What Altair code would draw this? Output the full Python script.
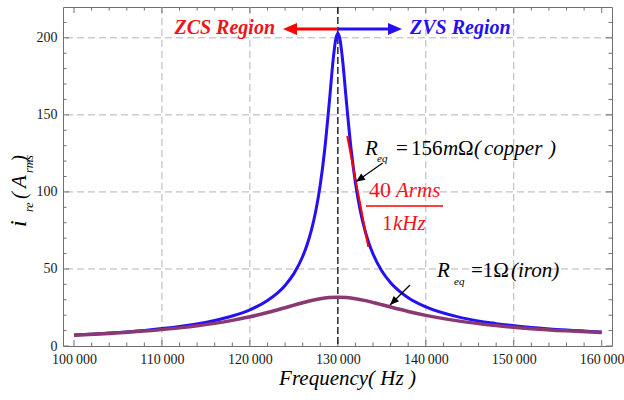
import altair as alt
import pandas as pd

# ---------------- data ----------------
freq_copper = [100000, 104000, 108000, 112000, 116000, 118000, 120000, 122000, 124000, 125000,
               126000, 126500, 127000, 127500, 128000, 128500, 129000, 129500, 129750, 130000,
               130250, 130500, 131000, 131500, 132000, 132500, 133000, 133500, 134000, 135000,
               136000, 138000, 140000, 144000, 148000, 152000, 156000, 160000]
i_copper = [7.13, 8.41, 10.14, 12.63, 16.53, 19.43, 23.47, 29.48, 39.30, 46.96,
            58.05, 65.65, 75.32, 87.9, 104.6, 127.2, 156.4, 187.6, 198.8, 203.0,
            198.8, 187.7, 156.9, 128.1, 105.8, 89.3, 76.81, 67.2, 59.71, 48.69,
            41.09, 31.31, 25.33, 18.41, 14.53, 12.04, 10.32, 9.05]

freq_iron = [100000, 104000, 108000, 112000, 116000, 118000, 120000, 122000, 124000, 125000,
             126000, 127000, 128000, 129000, 130000, 131000, 132000, 133000, 134000, 135000,
             136000, 138000, 140000, 144000, 148000, 152000, 156000, 160000]
i_iron = [6.96, 8.13, 9.67, 11.76, 14.69, 16.62, 18.95, 21.71, 24.86, 26.50,
          28.09, 29.52, 30.68, 31.44, 31.70, 31.44, 30.71, 29.62, 28.27, 26.80,
          25.29, 22.41, 19.88, 15.97, 13.23, 11.27, 9.82, 8.71]

x_major = [100000, 110000, 120000, 130000, 140000, 150000, 160000]
x_minor = [f for f in range(100000, 160001, 2000) if f % 10000]
y_major = [0, 50, 100, 150, 200]
y_minor = [v for v in range(10, 220, 10) if v % 50]
x_grid = [110000, 120000, 140000, 150000]
y_grid = [50, 100, 150, 200]
resonance = [130000]

tangent_f = [131070, 133460]
tangent_i = [136.3, 64.3]

# ---------------- layout ----------------
W, H = 549, 339
LEFT, TOP = 63, 7
XD = [98750, 161170]
YD = [0, 220]
SERIF = "Liberation Serif"
BLUE = "#2410f2"
PURPLE = "#8a3872"
RED = "#ff0000"
RED_TXT = "#f0131e"


def fx(px):
    return XD[0] + (px - LEFT) / W * (XD[1] - XD[0])


def fy(py):
    return YD[1] - (py - TOP) / H * (YD[1] - YD[0])


xaxis = alt.Axis(values=x_major, labelExpr="replace(format(datum.value, ','), ',', '\u2009')",
                 title=None, domain=False, ticks=False, grid=False, labelFont=SERIF,
                 labelFontSize=14, labelColor="#1a1a1a", labelPadding=6)
yaxis = alt.Axis(values=y_major, format="d", title=None, domain=False, ticks=False, grid=False,
                 labelFont=SERIF, labelFontSize=14, labelColor="#1a1a1a", labelPadding=6)


def X(field):
    return alt.X(f"{field}:Q", scale=alt.Scale(domain=XD, nice=False, zero=False), axis=xaxis)


def Y(field):
    return alt.Y(f"{field}:Q", scale=alt.Scale(domain=YD, nice=False, zero=False), axis=yaxis)


layers = []

# grid
layers.append(alt.Chart(pd.DataFrame({"g": x_grid})).mark_rule(
    color="#b4b4b4", strokeWidth=1, strokeDash=[7, 4]).encode(x=X("g")))
layers.append(alt.Chart(pd.DataFrame({"g": y_grid})).mark_rule(
    color="#b4b4b4", strokeWidth=1, strokeDash=[7, 4]).encode(y=Y("g")))

# frame ticks (inside)
tick_col = "#707070"
for vals, ln in ((x_major, 6), (x_minor, 3.5)):
    d = pd.DataFrame({"t": vals})
    layers.append(alt.Chart(d).mark_rule(color=tick_col, strokeWidth=1).encode(
        x=X("t"), y=alt.value(H), y2=alt.value(H - ln)))
    layers.append(alt.Chart(d).mark_rule(color=tick_col, strokeWidth=1).encode(
        x=X("t"), y=alt.value(0), y2=alt.value(ln)))
for vals, ln in ((y_major, 6), (y_minor, 3.5)):
    d = pd.DataFrame({"t": vals})
    layers.append(alt.Chart(d).mark_rule(color=tick_col, strokeWidth=1).encode(
        y=Y("t"), x=alt.value(0), x2=alt.value(ln)))
    layers.append(alt.Chart(d).mark_rule(color=tick_col, strokeWidth=1).encode(
        y=Y("t"), x=alt.value(W - ln), x2=alt.value(W)))

# resonance dashed line
layers.append(alt.Chart(pd.DataFrame({"r": resonance})).mark_rule(
    color="#1a1a1a", strokeWidth=1.4, strokeDash=[7, 3]).encode(x=X("r")))

# curves
layers.append(alt.Chart(pd.DataFrame({"f": freq_copper, "i": i_copper})).mark_line(
    color=BLUE, strokeWidth=3, interpolate="monotone").encode(x=X("f"), y=Y("i")))
layers.append(alt.Chart(pd.DataFrame({"f": freq_iron, "i": i_iron})).mark_line(
    color=PURPLE, strokeWidth=3.5, interpolate="monotone").encode(x=X("f"), y=Y("i")))

# tangent line
layers.append(alt.Chart(pd.DataFrame({"f": tangent_f, "i": tangent_i})).mark_line(
    color=RED, strokeWidth=2).encode(x=X("f"), y=Y("i")))

# fraction bar
layers.append(alt.Chart(pd.DataFrame({"a": [fx(366)], "b": [fx(443)], "y": [fy(206)]})).mark_rule(
    color=RED, strokeWidth=1.5).encode(x=X("a"), x2="b:Q", y=Y("y")))

# region arrows
ya = fy(29)
layers.append(alt.Chart(pd.DataFrame({"a": [130000], "b": [fx(292)], "y": [ya]})).mark_rule(
    color=RED, strokeWidth=3).encode(x=X("a"), x2="b:Q", y=Y("y")))
layers.append(alt.Chart(pd.DataFrame({"a": [130000], "b": [fx(394)], "y": [ya]})).mark_rule(
    color=BLUE, strokeWidth=3).encode(x=X("a"), x2="b:Q", y=Y("y")))
HEAD_L = "M0,0 L2,-0.85 L2,0.85 Z"
HEAD_R = "M0,0 L-2,-0.85 L-2,0.85 Z"
layers.append(alt.Chart(pd.DataFrame({"x": [fx(283)], "y": [ya]})).mark_point(
    shape=HEAD_L, size=196, filled=True, color=RED, opacity=1, strokeWidth=0).encode(x=X("x"), y=Y("y")))
layers.append(alt.Chart(pd.DataFrame({"x": [fx(402)], "y": [ya]})).mark_point(
    shape=HEAD_R, size=196, filled=True, color=BLUE, opacity=1, strokeWidth=0).encode(x=X("x"), y=Y("y")))

# black pointer arrows
for (sx, sy, tx, ty, ang) in ((382.7, 163, 356, 181.7, 325), (410, 285, 390, 305, 315)):
    layers.append(alt.Chart(pd.DataFrame({"a": [fx(sx)], "b": [fx(tx)], "c": [fy(sy)], "d": [fy(ty)]})).mark_rule(
        color="black", strokeWidth=1.2).encode(x=X("a"), x2="b:Q", y=Y("c"), y2="d:Q"))
    layers.append(alt.Chart(pd.DataFrame({"x": [fx(tx)], "y": [fy(ty)]})).mark_point(
        shape=HEAD_L, size=81, filled=True, color="black", opacity=1, strokeWidth=0, angle=ang).encode(
        x=X("x"), y=Y("y")))


# annotation texts (page pixel positions converted to data)
def txt(pieces, size, color="black", italic=False, bold=False, align="left"):
    d = pd.DataFrame({"t": [p[0] for p in pieces], "x": [fx(p[1]) for p in pieces],
                      "y": [fy(p[2]) for p in pieces]})
    return alt.Chart(d).mark_text(font=SERIF, fontSize=size, color=color, align=align,
                                  baseline="alphabetic", fontStyle="italic" if italic else "normal",
                                  fontWeight="bold" if bold else "normal").encode(
        x=X("x"), y=Y("y"), text="t:N")


layers.append(txt([("ZCS Region", 275, 34)], 20, RED_TXT, italic=True, bold=True, align="right"))
layers.append(txt([("ZVS Region", 410, 34)], 20, BLUE, italic=True, bold=True))
# copper label
layers.append(txt([("R", 365, 155), ("m", 443, 155), ("(", 474, 155), ("copper", 484, 155), (")", 549, 155)],
                  21, italic=True))
layers.append(txt([("=", 396, 155), ("156", 411, 155), ("Ω", 458, 155)], 21))
layers.append(txt([("eq", 377, 161.5)], 11, italic=True))
# iron label
layers.append(txt([("R", 437, 277), ("(iron)", 511, 277)], 21, italic=True))
layers.append(txt([("=1Ω", 471, 277)], 21))
layers.append(txt([("eq", 454, 285)], 11, italic=True))
# fraction
layers.append(txt([("40", 369, 197)], 22, RED_TXT))
layers.append(txt([("1", 382, 230)], 21, RED_TXT))
layers.append(txt([("Arms", 396, 197), ("kHz", 393, 230)], 21, RED_TXT, italic=True))


# axis titles as text pieces in pixel space
def ptxt(text, px, py, size, angle=0, align="left"):
    kw = dict(font=SERIF, fontSize=size, fontStyle="italic", color="black", align=align,
              baseline="alphabetic")
    if angle:
        kw["angle"] = angle
    return alt.Chart(pd.DataFrame({"a": [0]})).mark_text(**kw).encode(
        x=alt.value(px - LEFT), y=alt.value(py - TOP), text=alt.value(text))


layers.append(ptxt("Frequency( Hz )", 347.5, 385, 21, align="center"))
layers.append(ptxt("i", 26, 227, 24, angle=270))
layers.append(ptxt("re", 33, 212, 12, angle=270))
layers.append(ptxt("(", 26, 199, 21, angle=270))
layers.append(ptxt("A", 26, 188, 21, angle=270))
layers.append(ptxt("rms", 33, 173, 12, angle=270))
layers.append(ptxt(")", 26, 162, 21, angle=270))

chart = alt.layer(*layers).properties(
    width=W, height=H,
    autosize=alt.AutoSizeParams(type="none"),
    padding={"left": LEFT, "top": TOP, "right": 624 - LEFT - W, "bottom": 400 - TOP - H},
    background="white",
).configure_view(stroke="#707070", strokeWidth=1)

chart.save("out.html", embed_options={"renderer": "svg", "actions": False})
